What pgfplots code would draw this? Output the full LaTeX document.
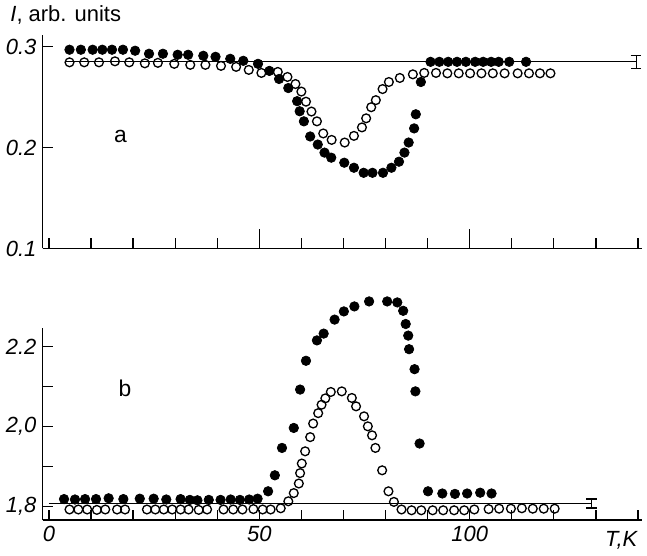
\documentclass[border=0pt]{standalone}
\usepackage{fontspec}
\setmainfont{Liberation Sans}
\usepackage{pgfplots}
\pgfplotsset{compat=1.18}

\pgfplotsset{
  panel/.style={
    width=12cm, scale only axis,
    axis lines*=left,
    axis line style={line width=0.9pt},
    xmin=-1.5, xmax=141,
    xtick={0,10,...,140},
    tick align=inside,
    major tick length=6pt,
    tick style={line width=0.7pt, black},
    clip=false,
    ticklabel style={font=\fontsize{12.5}{14}\selectfont\itshape},
    /pgf/number format/assume math mode=true,
  },
  filled/.style={only marks, mark=*, mark size=2.7pt, mark options={fill=black, draw=black}},
  open/.style={only marks, mark=o, mark size=2.5pt, mark options={draw=black, line width=0.75pt}},
  refline/.style={black, line width=0.7pt, no markers},
}

\begin{document}
\begin{tikzpicture}
% ---- panel b ----
\begin{axis}[panel,
    height=3.84cm,
    ymin=1.765, ymax=2.245,
    ytick={1.8,1.9,2.0,2.1,2.2},
    yticklabels={{1,8},{},{2,0},{},{2.2}},
    xticklabels={0,,,,,50,,,,,100,,,,},
    xlabel={\fontsize{12.5}{14}\selectfont\itshape T,K},
    xlabel style={at={(rel axis cs:0.965,0)}, anchor=north, yshift=-3pt},
  ]
  \addplot[filled] coordinates {
    (3.6,1.818) (6.2,1.817) (8.6,1.818) (11.2,1.818) (14.2,1.820) (17.7,1.818)
    (21.6,1.819) (24.9,1.819) (27.9,1.817) (31.3,1.818) (33.5,1.816) (35.3,1.815)
    (38.0,1.816) (40.8,1.816) (43.2,1.817) (45.4,1.816) (47.6,1.817) (49.6,1.819)
    (52.1,1.8375) (53.7,1.8775) (55.4,1.946) (58.2,1.996) (59.7,2.092) (61.1,2.164)
    (63.7,2.215) (65.3,2.232) (67.9,2.267) (70.1,2.2875) (72.6,2.300) (76.1,2.3125)
    (80.4,2.3125) (82.8,2.310) (84.2,2.289) (84.8,2.256) (85.4,2.227) (85.6,2.193)
    (86.9,2.143) (87.1,2.0875) (88.1,1.957) (90.1,1.8375) (93.5,1.832) (96.5,1.831)
    (99.4,1.832) (102.5,1.834) (105.2,1.832)
  };
  \addplot[open] coordinates {
    (4.9,1.792) (7.0,1.792) (9.1,1.792) (11.4,1.791) (13.4,1.792) (16.2,1.792)
    (18.1,1.792) (23.3,1.792) (25.3,1.792) (27.3,1.792) (29.3,1.792) (31.3,1.792)
    (33.2,1.792) (35.6,1.791) (37.6,1.792) (41.5,1.792) (43.8,1.792) (46.0,1.792)
    (48.6,1.793) (50.8,1.792) (52.7,1.792) (55.1,1.795) (56.9,1.8125) (58.2,1.833)
    (59.4,1.857) (59.7,1.883) (60.1,1.907) (60.9,1.9375) (62.1,1.973) (62.8,2.007)
    (64.0,2.033) (64.8,2.054) (65.7,2.070) (67.0,2.086) (69.6,2.0875) (72.0,2.071)
    (73.0,2.050) (74.9,2.025) (75.8,2.000) (76.8,1.9775) (77.6,1.946) (79.2,1.890)
    (80.7,1.8375) (82.0,1.811) (83.8,1.792) (86.2,1.790) (88.5,1.790) (91.2,1.790)
    (93.7,1.790) (96.3,1.790) (98.7,1.790) (101.1,1.792) (104.5,1.793) (107.0,1.794)
    (109.8,1.794) (112.4,1.795) (115.0,1.794) (117.6,1.794) (120.2,1.794)
  };
  \addplot[refline] coordinates {(0,1.807) (129,1.807)};
  \addplot[black, line width=0.8pt, no markers, error bars/.cd, y dir=both, y explicit,
    error mark options={rotate=90, mark size=3pt, line width=0.8pt}]
    coordinates {(129,1.807) +- (0,0.011)};
  \node[font=\fontsize{13}{15}\selectfont] at (axis cs:18.1,2.095) {b};
\end{axis}
% ---- panel a ----
\begin{axis}[panel,
    at={(0,5.44cm)},
    height=4.28cm,
    ymin=0.1, ymax=0.312,
    ytick={0.1,0.2,0.3},
    yticklabels={0.1,0.2,0.3},
    xticklabels={},
    extra x ticks={50,100},
    extra x tick labels={},
    extra x tick style={major tick length=11pt},
    ylabel={\fontsize{12.5}{14}\selectfont\itshape I\upshape, arb. units},
    ylabel style={rotate=-90, at={(rel axis cs:-0.064,1.06)}, anchor=base west},
  ]
  \addplot[filled] coordinates {
    (4.9,0.297) (7.6,0.297) (10.4,0.297) (12.7,0.297) (15.0,0.297) (17.6,0.297)
    (20.5,0.296) (23.8,0.293) (27.1,0.293) (30.6,0.292) (33.1,0.292) (36.7,0.291)
    (39.6,0.290) (43.1,0.288) (46.2,0.286) (49.7,0.283) (52.4,0.276) (54.7,0.268)
    (56.9,0.259) (59.0,0.246) (59.6,0.236) (60.6,0.226) (62.1,0.211) (63.9,0.203)
    (65.5,0.195) (67.1,0.190) (70.2,0.185) (72.5,0.180) (74.8,0.175) (76.9,0.175)
    (79.4,0.175) (81.4,0.180) (83.2,0.186) (84.5,0.195) (85.5,0.205) (86.8,0.219)
    (87.2,0.233) (88.4,0.265) (90.7,0.285) (92.8,0.285) (94.9,0.285) (97.0,0.285)
    (99.1,0.285) (101.3,0.285) (103.2,0.285) (105.1,0.285) (106.9,0.285) (109.4,0.285)
    (113.4,0.285)
  };
  \addplot[open] coordinates {
    (4.9,0.2845) (8.4,0.2845) (11.9,0.2845) (15.7,0.2855) (19.1,0.2845) (22.8,0.2835)
    (25.9,0.284) (29.8,0.283) (33.6,0.282) (37.2,0.282) (40.9,0.281) (44.5,0.280)
    (47.5,0.277) (50.5,0.274) (54.4,0.275) (56.7,0.270) (58.6,0.263) (60.0,0.2555)
    (61.1,0.2455) (62.4,0.2357) (63.7,0.226) (65.2,0.214) (67.2,0.2076) (70.3,0.205)
    (72.5,0.2116) (74.4,0.220) (75.4,0.229) (76.6,0.240) (77.7,0.247) (79.3,0.258)
    (80.8,0.265) (83.4,0.269) (86.5,0.2726) (89.2,0.274) (92.0,0.274) (94.7,0.2736)
    (97.4,0.2736) (100.1,0.2736) (102.8,0.2736) (105.5,0.2736) (108.3,0.2736)
    (111.4,0.2736) (114.1,0.2736) (116.7,0.2736) (119.2,0.2736)
  };
  \addplot[refline] coordinates {(4,0.285) (139.5,0.285)};
  \addplot[black, line width=0.8pt, no markers, error bars/.cd, y dir=both, y explicit,
    error mark options={rotate=90, mark size=3pt, line width=0.8pt}]
    coordinates {(139.5,0.285) +- (0,0.0065)};
  \node[font=\fontsize{13}{15}\selectfont] at (axis cs:17,0.211) {a};
\end{axis}
\end{tikzpicture}
\end{document}
